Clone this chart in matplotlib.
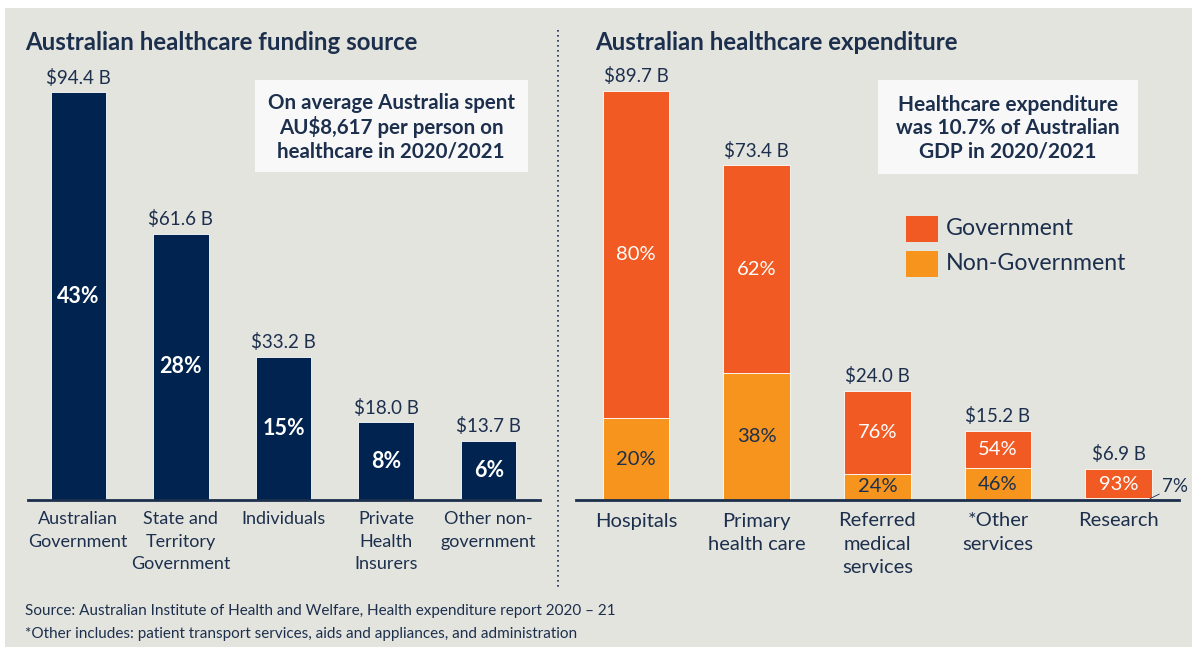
import numpy as np
import matplotlib.pyplot as plt
from matplotlib.patches import Rectangle

plt.rcParams['font.family'] = ['Lato', 'DejaVu Sans']

# funding source (left panel)
fund_labels = ["Australian\nGovernment", "State and\nTerritory\nGovernment", "Individuals",
               "Private\nHealth\nInsurers", "Other non-\ngovernment"]
fund_values = [94.4, 61.6, 33.2, 18.0, 13.7]
fund_share = ["43%", "28%", "15%", "8%", "6%"]

# expenditure (right panel)
exp_labels = ["Hospitals", "Primary\nhealth care", "Referred\nmedical\nservices",
              "*Other\nservices", "Research"]
exp_values = [89.7, 73.4, 24.0, 15.2, 6.9]
gov_pct = [80, 62, 76, 54, 93]
nongov_pct = [20, 38, 24, 46, 7]

navy = "#00244f"
orange = "#f15a22"
amber = "#f7941d"
bg = "#e4e4df"
txt = "#1c2f4d"

W, H = 1192, 647
fig = plt.figure(figsize=(W / 100, H / 100), dpi=100)
fig.patch.set_facecolor("white")
fig.add_artist(Rectangle((5 / W, 0), 1 - 5 / W, 1 - 8 / H, transform=fig.transFigure,
                         facecolor=bg, edgecolor="none", zorder=0))


def px_axes(x0, x1, y_base, y_top):
    return fig.add_axes([x0 / W, 1 - y_base / H, (x1 - x0) / W, (y_base - y_top) / H])


ax1 = px_axes(28, 540, 500, 60)
ax2 = px_axes(576, 1179, 500, 60)

for ax in (ax1, ax2):
    ax.set_facecolor("none")
    for s in ["top", "right", "left"]:
        ax.spines[s].set_visible(False)
    ax.spines["bottom"].set_color(txt)
    ax.spines["bottom"].set_linewidth(2)
    ax.set_yticks([])
    ax.tick_params(axis="x", length=0, colors=txt)

# left panel
x = np.arange(len(fund_values))
ax1.bar(x, fund_values, width=0.54, color=navy, edgecolor="white", linewidth=0.6)
ax1.set_xlim(-0.49, 4.5)
ax1.set_ylim(0, 440 / 4.32)
ax1.set_xticks(x)
ax1.set_xticklabels(fund_labels, fontsize=13, color=txt, linespacing=1.5, va="top")
ax1.tick_params(axis="x", pad=8)
for i, v in enumerate(fund_values):
    ax1.annotate(f"${v:.1f} B", (i, v), xytext=(0, 4), textcoords="offset points",
                 ha="center", va="bottom", fontsize=13.5, color=txt)
    ax1.text(i, v / 2, fund_share[i], ha="center", va="center", fontsize=15.5,
             fontweight="bold", color="white")

# right panel
x2 = np.arange(len(exp_values))
gov = [v * g / 100 for v, g in zip(exp_values, gov_pct)]
non = [v * n / 100 for v, n in zip(exp_values, nongov_pct)]
ax2.bar(x2, non, width=0.553, color=amber, edgecolor="white", linewidth=0.6, label="Non-Government")
ax2.bar(x2, gov, width=0.553, bottom=non, color=orange, edgecolor="white", linewidth=0.6,
        label="Government")
ax2.set_xlim(-0.497, 4.5)
ax2.set_ylim(0, 440 / 4.56)
ax2.set_xticks(x2)
ax2.set_xticklabels(exp_labels, fontsize=14.5, color=txt, linespacing=1.45, va="top")
ax2.tick_params(axis="x", pad=9)
for i, v in enumerate(exp_values):
    ax2.annotate(f"${v:.1f} B", (i, v), xytext=(0, 4), textcoords="offset points",
                 ha="center", va="bottom", fontsize=13.5, color=txt)
    if i < 4:
        ax2.text(i, non[i] + gov[i] / 2, f"{gov_pct[i]}%", ha="center", va="center",
                 fontsize=14.5, color="white")
        ax2.text(i, non[i] / 2, f"{nongov_pct[i]}%", ha="center", va="center",
                 fontsize=14.5, color=txt)
    else:
        ax2.text(i, non[i] + gov[i] / 2 - 0.3, f"{gov_pct[i]}%", ha="center", va="center",
                 fontsize=14.5, color="white")
        ax2.annotate(f"{nongov_pct[i]}%", xy=(i + 0.26, 0.3), xytext=(i + 0.36, 3.0),
                     fontsize=13.5, color=txt, ha="left", va="center",
                     arrowprops=dict(arrowstyle="-", color=txt, lw=0.6,
                                     shrinkA=0, shrinkB=0))

# legend
for k, (lab, col) in enumerate([("Government", orange), ("Non-Government", amber)]):
    y = 229 + k * 35
    fig.add_artist(Rectangle((906 / W, 1 - (y + 13) / H), 32 / W, 26 / H,
                             transform=fig.transFigure, facecolor=col, edgecolor="none"))
    fig.text(946 / W, 1 - y / H, lab, fontsize=16.7, color=txt, va="center", ha="left")

# titles
fig.text(25 / W, 1 - 42 / H, "Australian healthcare funding source", fontsize=17.3,
         fontweight="bold", color=txt, va="center")
fig.text(595 / W, 1 - 42 / H, "Australian healthcare expenditure", fontsize=17.3,
         fontweight="bold", color=txt, va="center")

# callout boxes
fig.add_artist(Rectangle((255 / W, 1 - 172 / H), 273 / W, 92 / H, transform=fig.transFigure,
                         facecolor="#f8f8f8", edgecolor="none"))
fig.text(391 / W, 1 - 127 / H, "On average Australia spent\nAU$8,617 per person on\nhealthcare in 2020/2021",
         fontsize=14.8, fontweight="bold", color=txt, ha="center", va="center", linespacing=1.2)
fig.add_artist(Rectangle((878 / W, 1 - 174 / H), 260 / W, 94 / H, transform=fig.transFigure,
                         facecolor="#f8f8f8", edgecolor="none"))
fig.text(1008 / W, 1 - 128 / H, "Healthcare expenditure\nwas 10.7% of Australian\nGDP in 2020/2021",
         fontsize=15, fontweight="bold", color=txt, ha="center", va="center", linespacing=1.2)

# divider
fig.add_artist(plt.Line2D([558 / W, 558 / W], [1 - 30 / H, 1 - 590 / H], transform=fig.transFigure,
                          color=txt, lw=1.2, linestyle=(0, (1, 2))))

# footnotes
fig.text(25 / W, 1 - 611 / H, "Source: Australian Institute of Health and Welfare, Health expenditure report 2020 \u2013 21",
         fontsize=11, color=txt, va="center")
fig.text(25 / W, 1 - 634 / H, "*Other includes: patient transport services, aids and appliances, and administration",
         fontsize=11, color=txt, va="center")

fig.savefig("out.png", dpi=100, facecolor=fig.get_facecolor())
